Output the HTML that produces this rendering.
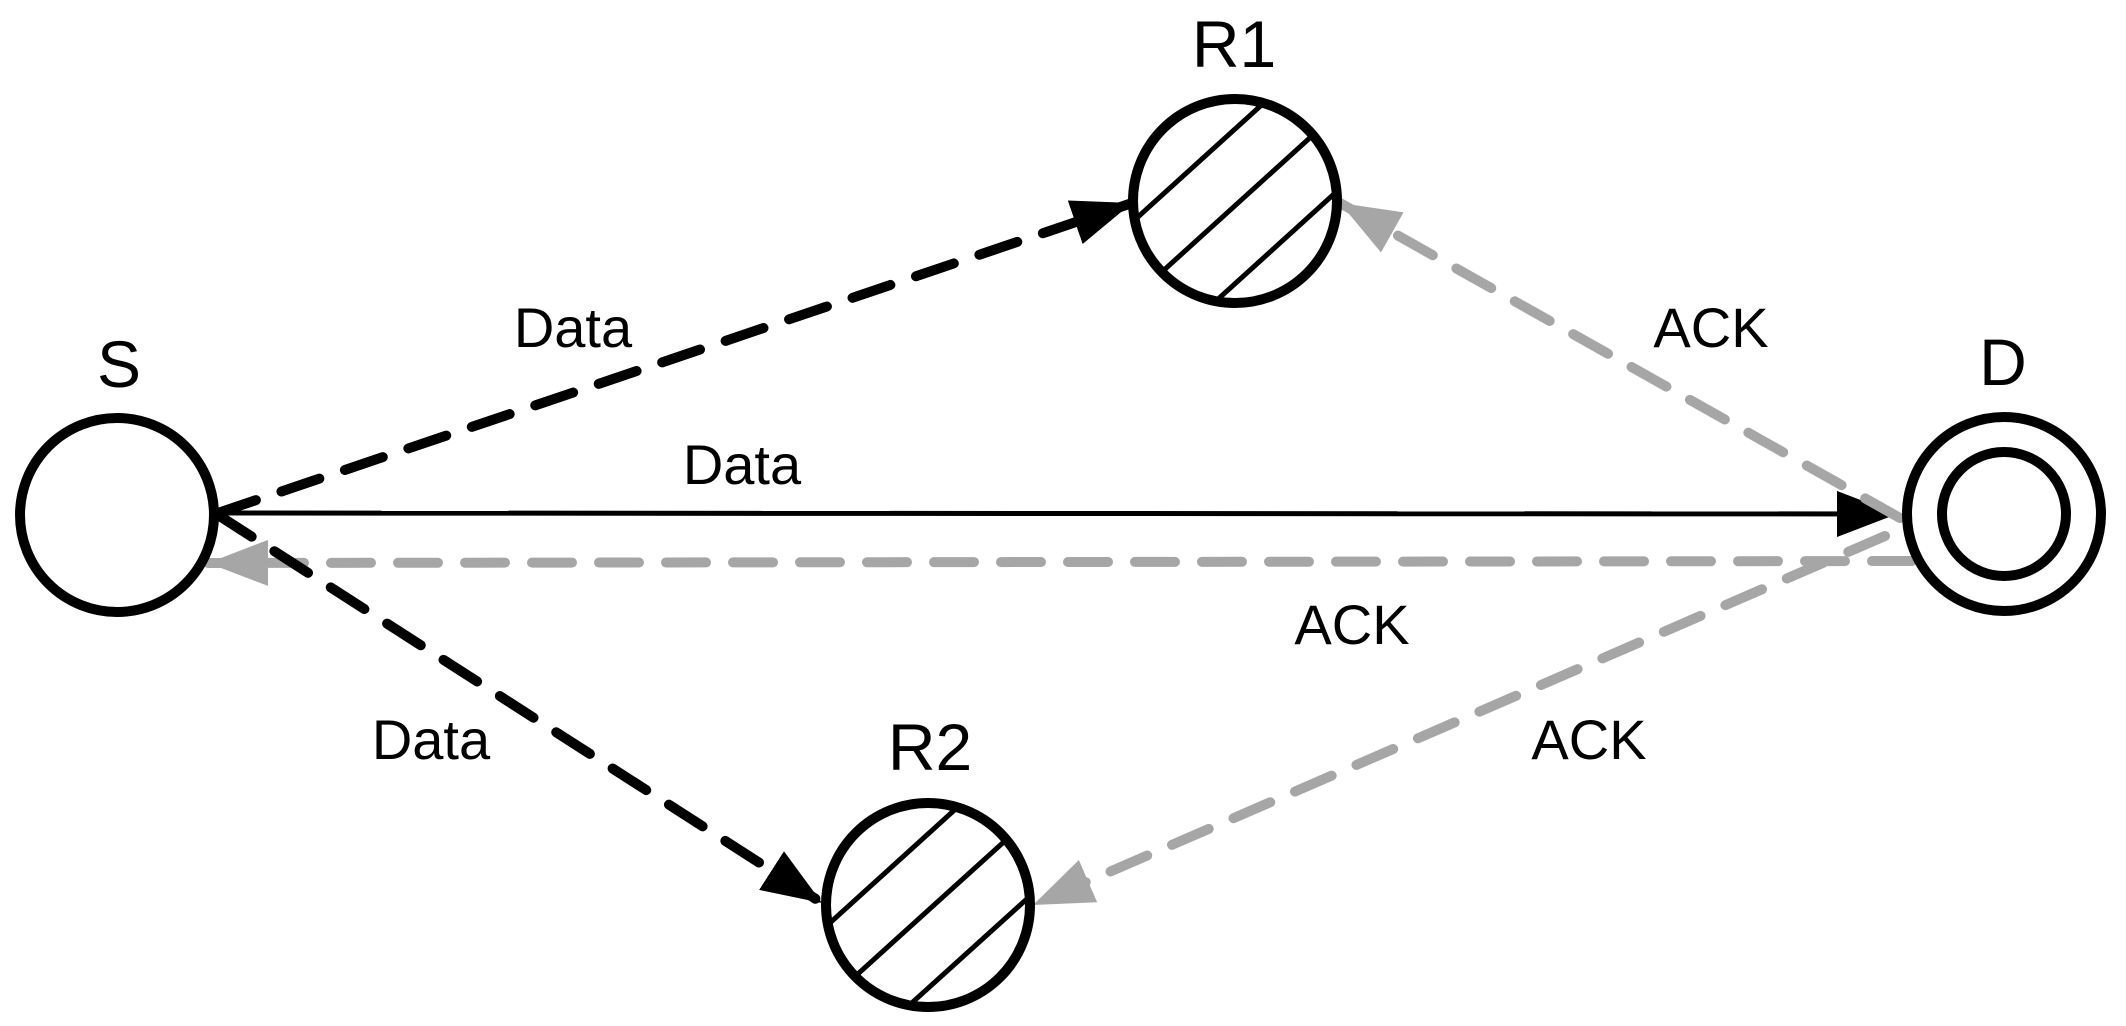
<!DOCTYPE html>
<html><head><style>html,body{margin:0;padding:0;background:#fff;overflow:hidden;width:2126px;height:1026px}svg{display:block}</style></head><body>
<svg width="2126" height="1026" viewBox="0 0 2126 1026" xmlns="http://www.w3.org/2000/svg" font-family="Liberation Sans, sans-serif">
<defs>
<marker id="ab" viewBox="0 0 60 46" refX="60" refY="23" markerWidth="60" markerHeight="46" markerUnits="userSpaceOnUse" orient="auto"><path d="M0,0 L60,23 L0,46 z" fill="#000"/></marker>
<marker id="ag" viewBox="0 0 60 46" refX="60" refY="23" markerWidth="60" markerHeight="46" markerUnits="userSpaceOnUse" orient="auto"><path d="M0,0 L60,23 L0,46 z" fill="#a6a6a6"/></marker>
<clipPath id="c1"><circle cx="1235" cy="201" r="102"/></clipPath>
<clipPath id="c2"><circle cx="928" cy="905" r="102"/></clipPath>
</defs>
<g stroke-width="10" fill="none" stroke-linecap="round">
<line x1="218" y1="513" x2="1897" y2="514" stroke="#000" stroke-width="5" stroke-linecap="butt" marker-end="url(#ab)"/>
<line x1="1912" y1="561" x2="208" y2="563" stroke="#a6a6a6" stroke-dasharray="40,27" marker-end="url(#ag)"/>
<line x1="218" y1="513" x2="1132" y2="203" stroke="#000" stroke-dasharray="40,27" marker-end="url(#ab)"/>
<line x1="218" y1="515" x2="822" y2="903" stroke="#000" stroke-dasharray="40,27" marker-end="url(#ab)"/>
<line x1="1900" y1="518" x2="1340" y2="203" stroke="#a6a6a6" stroke-dasharray="40,27" marker-end="url(#ag)"/>
<line x1="1885" y1="536" x2="1033" y2="905" stroke="#a6a6a6" stroke-dasharray="40,27" marker-end="url(#ag)"/>
</g>
<g stroke="#000" stroke-width="5" fill="none">
<g clip-path="url(#c1)"><line x1="1032" y1="313" x2="1352" y2="23"/><line x1="1057" y1="367" x2="1377" y2="77"/><line x1="1110" y1="397" x2="1430" y2="107"/></g>
<g clip-path="url(#c2)"><line x1="736" y1="1008" x2="1045" y2="728"/><line x1="818" y1="1010" x2="1070" y2="782"/><line x1="904" y1="1010" x2="1123" y2="812"/></g>
</g>
<g stroke="#000" stroke-width="10" fill="none">
<circle cx="117" cy="515" r="97"/>
<circle cx="1235" cy="201" r="102"/>
<circle cx="928" cy="905" r="102"/>
<circle cx="2004" cy="514" r="97" fill="#fff"/>
<circle cx="2004" cy="514" r="62"/>
</g>
<g font-size="66" text-anchor="middle">
<text x="119" y="387">S</text><text x="1234" y="67">R1</text><text x="930" y="770">R2</text><text x="2003" y="385">D</text>
</g>
<g font-size="56" text-anchor="middle">
<text x="573" y="347">Data</text><text x="742" y="484">Data</text><text x="431" y="759">Data</text>
<text x="1711" y="347">ACK</text><text x="1352" y="644">ACK</text><text x="1589" y="759">ACK</text>
</g>
</svg>
</body></html>
